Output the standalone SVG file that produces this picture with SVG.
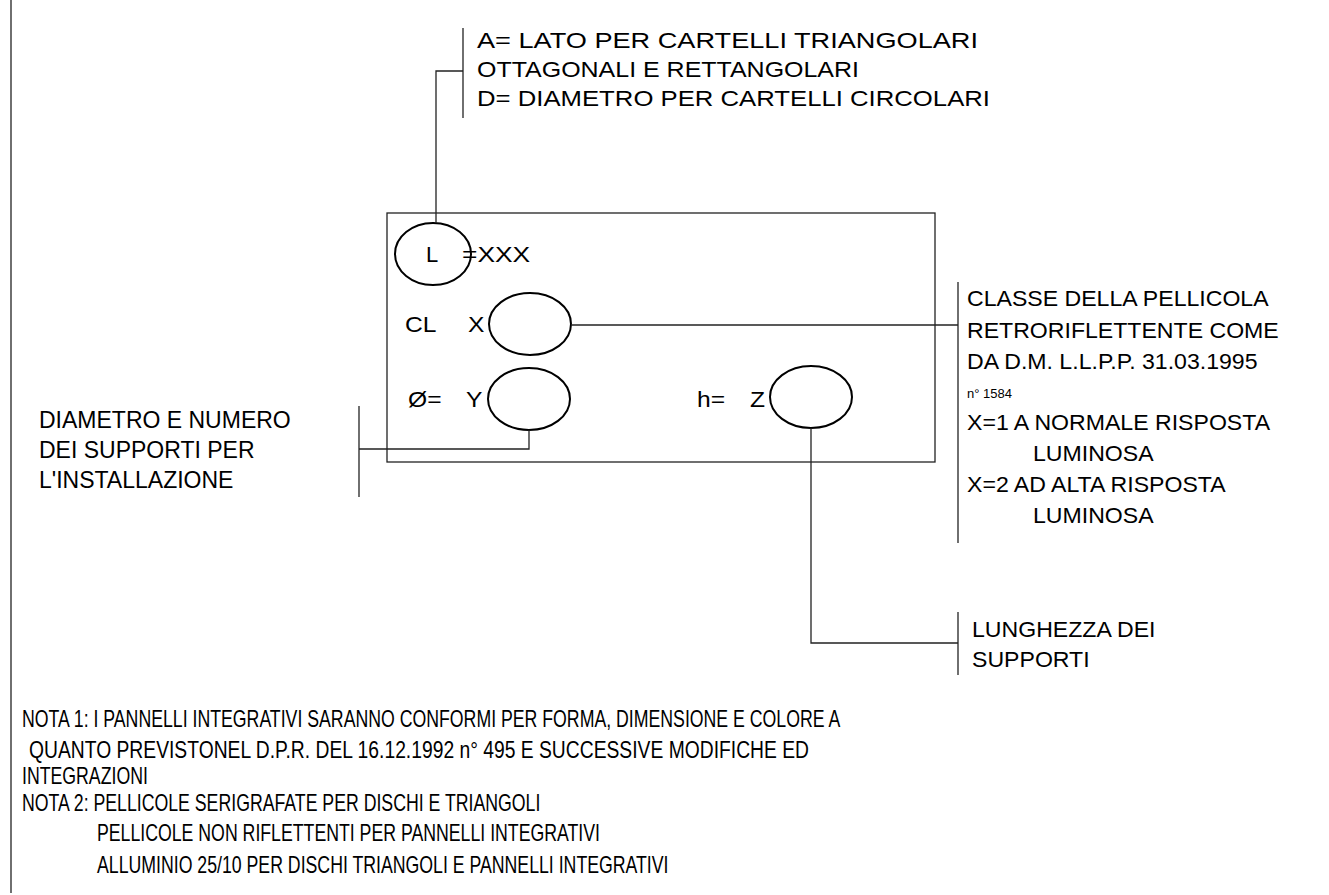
<svg xmlns="http://www.w3.org/2000/svg" width="1329" height="895" viewBox="0 0 1329 895">
<style>
.ln{fill:none;stroke:#222;stroke-width:1.3}
.el{fill:none;stroke:#000;stroke-width:2}
text{font-family:"Liberation Sans",Arial,sans-serif;font-size:22px;fill:#000}
.r{font-size:22px}
.s{font-size:13px}
.n{font-size:23px}
</style>
<rect width="1329" height="895" fill="#fff"/>
<g id="border"><path class="ln" d="M11 0V893"/></g>
<g id="sign">
<rect class="ln" x="387" y="213" width="548" height="249"/>
</g>
<g id="node-L">
<ellipse class="el" cx="433" cy="254" rx="38" ry="31"/>
<text x="426" y="262">L</text>
<text transform="translate(462,262) scale(1.2,1)">=XXX</text>
</g>
<g id="node-CL">
<text transform="translate(405,332) scale(1.12,1)">CL</text>
<text transform="translate(468,332) scale(1.12,1)">X</text>
<ellipse class="el" cx="530" cy="324" rx="41" ry="31"/>
</g>
<g id="node-Y">
<text transform="translate(408,407) scale(1.12,1)">Ø=</text>
<text transform="translate(466,407) scale(1.12,1)">Y</text>
<ellipse class="el" cx="529" cy="399" rx="41" ry="31"/>
</g>
<g id="node-Z">
<text transform="translate(697,407) scale(1.12,1)">h=</text>
<text transform="translate(750,407) scale(1.12,1)">Z</text>
<ellipse class="el" cx="811" cy="397" rx="41" ry="31"/>
</g>
<g id="connectors">
<path class="ln" d="M436 223V71H463"/>
<path class="ln" d="M463 28V118"/>
<path class="ln" d="M571 325H958"/>
<path class="ln" d="M958 282V543"/>
<path class="ln" d="M529 430V449H359"/>
<path class="ln" d="M359 406V497"/>
<path class="ln" d="M811 428V643H958"/>
<path class="ln" d="M958 612V675"/>
</g>
<g id="label-top">
<text x="477" y="48" textLength="501" lengthAdjust="spacingAndGlyphs">A= LATO PER CARTELLI TRIANGOLARI</text>
<text x="477" y="77" textLength="382" lengthAdjust="spacingAndGlyphs">OTTAGONALI E RETTANGOLARI</text>
<text x="477" y="106" textLength="513" lengthAdjust="spacingAndGlyphs">D= DIAMETRO PER CARTELLI CIRCOLARI</text>
</g>
<g id="label-class">
<text class="r" transform="translate(967,306) scale(1.05,1)">CLASSE DELLA PELLICOLA</text>
<text class="r" transform="translate(967,338) scale(1.05,1)">RETRORIFLETTENTE COME</text>
<text class="r" transform="translate(967,369) scale(1.05,1)">DA D.M. L.L.P.P. 31.03.1995</text>
<text class="s" x="967" y="398">n° 1584</text>
<text class="r" transform="translate(967,430) scale(1.05,1)">X=1 A NORMALE RISPOSTA</text>
<text class="r" transform="translate(1033,461) scale(1.05,1)">LUMINOSA</text>
<text class="r" transform="translate(967,492) scale(1.05,1)">X=2 AD ALTA RISPOSTA</text>
<text class="r" transform="translate(1033,523) scale(1.05,1)">LUMINOSA</text>
</g>
<g id="label-diam">
<text class="n" x="39" y="428">DIAMETRO E NUMERO</text>
<text class="n" x="39" y="458">DEI SUPPORTI PER</text>
<text class="n" x="39" y="488">L'INSTALLAZIONE</text>
</g>
<g id="label-len">
<text class="r" transform="translate(972,637) scale(1.05,1)">LUNGHEZZA DEI</text>
<text class="r" transform="translate(972,667) scale(1.05,1)">SUPPORTI</text>
</g>
<g id="notes">
<text class="n" transform="translate(22,727) scale(0.77,1)">NOTA 1: I PANNELLI INTEGRATIVI SARANNO CONFORMI PER FORMA, DIMENSIONE E COLORE A</text>
<text class="n" x="29" y="758" textLength="780" lengthAdjust="spacingAndGlyphs">QUANTO PREVISTONEL D.P.R. DEL 16.12.1992 n° 495 E SUCCESSIVE MODIFICHE ED</text>
<text class="n" transform="translate(22,784) scale(0.77,1)">INTEGRAZIONI</text>
<text class="n" transform="translate(22,811) scale(0.77,1)">NOTA 2: PELLICOLE SERIGRAFATE PER DISCHI E TRIANGOLI</text>
<text class="n" transform="translate(97,841) scale(0.77,1)">PELLICOLE NON RIFLETTENTI PER PANNELLI INTEGRATIVI</text>
<text class="n" transform="translate(97,873) scale(0.77,1)">ALLUMINIO 25/10 PER DISCHI TRIANGOLI E PANNELLI INTEGRATIVI</text>
</g>
</svg>
